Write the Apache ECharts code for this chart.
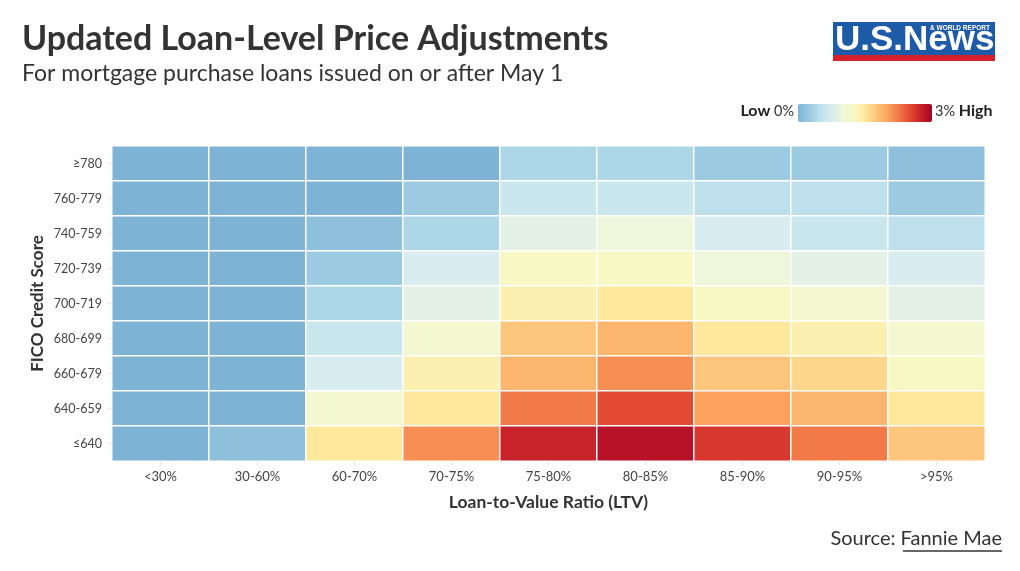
<!DOCTYPE html>
<html>
<head>
<meta charset="utf-8">
<script src="https://cdn.jsdelivr.net/npm/echarts@6/dist/echarts.min.js"></script>
<style>
html,body{margin:0;padding:0;background:#fff;}
#c{width:1020px;height:571px;}
</style>
</head>
<body>
<div id="c"></div>
<script>
// LTV buckets (x axis)
const ltvCategories = ['<30%','30-60%','60-70%','70-75%','75-80%','80-85%','85-90%','90-95%','>95%'];
// FICO buckets (y axis, top to bottom)
const ficoCategories = ['≥780','760-779','740-759','720-739','700-719','680-699','660-679','640-659','≤640'];
// LLPA values (%) per FICO row, in LTV order
const row780 = [0, 0, 0, 0, 0.375, 0.375, 0.25, 0.25, 0.125];
const row760 = [0, 0, 0, 0.25, 0.625, 0.625, 0.5, 0.5, 0.25];
const row740 = [0, 0, 0.125, 0.375, 0.875, 1.0, 0.75, 0.625, 0.5];
const row720 = [0, 0, 0.25, 0.75, 1.25, 1.25, 1.0, 0.875, 0.75];
const row700 = [0, 0, 0.375, 0.875, 1.375, 1.5, 1.25, 1.125, 0.875];
const row680 = [0, 0, 0.625, 1.125, 1.75, 1.875, 1.5, 1.375, 1.125];
const row660 = [0, 0, 0.75, 1.375, 1.875, 2.125, 1.75, 1.625, 1.25];
const row640 = [0, 0, 1.125, 1.5, 2.25, 2.5, 2.0, 1.875, 1.5];
const rowBelow640 = [0, 0.125, 1.5, 2.125, 2.75, 2.875, 2.625, 2.25, 1.75];
const rows = [row780, row760, row740, row720, row700, row680, row660, row640, rowBelow640];
const scaleMin = 0, scaleMax = 3;
// colour ramp stops, evenly spaced from 0% to 3%
const rampColors = ['#7fb3d5','#9ccbe1','#bde0ec','#d9edf0','#eef7dc','#f8f8c4','#fee89c','#fdc67c','#fba35e','#f27a48','#e34a33','#c8232a','#a50026'];

const data = [];
rows.forEach((r, yi) => r.forEach((v, xi) => data.push([xi, yi, v])));

const FONT = 'Lato';
const chart = echarts.init(document.getElementById('c'), null, {renderer: 'canvas'});
chart.setOption({
  backgroundColor: '#fff',
  animation: false,
  textStyle: {fontFamily: FONT},
  grid: {left: 112, right: 35, top: 146, bottom: 110},
  xAxis: {
    type: 'category', data: ltvCategories,
    name: 'Loan-to-Value Ratio (LTV)', nameLocation: 'middle', nameGap: 32,
    nameTextStyle: {fontFamily: FONT, fontSize: 17.5, fontWeight: 'bold', color: '#333'},
    axisLine: {show: true, lineStyle: {color: '#e8e8e8'}},
    axisTick: {show: true, alignWithLabel: true, length: 4, lineStyle: {color: '#e0e0e0'}},
    axisLabel: {color: '#444', fontSize: 13, margin: 9, fontFamily: FONT},
    splitArea: {show: false}
  },
  yAxis: {
    type: 'category', data: ficoCategories, inverse: true,
    name: 'FICO Credit Score', nameLocation: 'middle', nameGap: 66, nameRotate: 90,
    nameMoveOverlap: false,
    nameTextStyle: {fontFamily: FONT, fontSize: 17, fontWeight: 'bold', color: '#333'},
    axisLine: {show: true, lineStyle: {color: '#e8e8e8'}},
    axisTick: {show: true, alignWithLabel: true, length: 4, lineStyle: {color: '#e0e0e0'}},
    axisLabel: {color: '#444', fontSize: 12.5, margin: 10, fontFamily: FONT}
  },
  visualMap: {
    show: false, type: 'continuous', min: scaleMin, max: scaleMax, dimension: 2,
    inRange: {color: rampColors}
  },
  series: [{
    type: 'heatmap', data: data,
    itemStyle: {borderColor: '#fff', borderWidth: 1.5},
    emphasis: {disabled: true}
  }],
  graphic: [
    {type: 'text', left: 22, top: 22, style: {text: 'Updated Loan-Level Price Adjustments', fontFamily: FONT, fontSize: 34, fontWeight: 'bold', fill: '#333'}},
    {type: 'text', left: 22, top: 62, style: {text: 'For mortgage purchase loans issued on or after May 1', fontFamily: FONT, fontSize: 23, fill: '#333'}},
    // legend
    {type: 'text', right: 1020 - 794, top: 103, style: {text: '{b|Low} 0%', rich: {b: {fontWeight: 'bold', fontSize: 16, fontFamily: FONT, fill: '#222'}}, fontSize: 14.5, fontFamily: FONT, fill: '#333'}},
    {type: 'rect', shape: {x: 798, y: 104, width: 134, height: 18, r: 2}, style: {fill: new echarts.graphic.LinearGradient(0, 0, 1, 0, rampColors.map((c, i) => ({offset: i / (rampColors.length - 1), color: c})))}},
    {type: 'text', left: 935, top: 103, style: {text: '3% {b|High}', rich: {b: {fontWeight: 'bold', fontSize: 16, fontFamily: FONT, fill: '#222'}}, fontSize: 14.5, fontFamily: FONT, fill: '#333'}},
    // logo
    {type: 'rect', shape: {x: 833, y: 22, width: 162, height: 33}, style: {fill: '#1d5ba8'}},
    {type: 'rect', shape: {x: 833, y: 55, width: 162, height: 6}, style: {fill: '#d6202b'}},
    {type: 'text', left: 835, top: 23, style: {text: 'U.S.News', fontFamily: 'Liberation Sans', fontSize: 35, fontWeight: 'bold', fill: '#fff', letterSpacing: -2.5}},
    {type: 'text', left: 930, top: 25, style: {text: '& WORLD REPORT', fontFamily: 'Liberation Sans', fontSize: 6.5, fontWeight: 'bold', fill: '#fff'}},
    // source
    {type: 'text', right: 18, top: 529, style: {text: 'Source: Fannie Mae', fontFamily: FONT, fontSize: 20, fill: '#333'}},
    {type: 'line', shape: {x1: 903, y1: 551, x2: 1002, y2: 551}, style: {stroke: '#333', lineWidth: 1.5}}
  ]
});
</script>
</body>
</html>
